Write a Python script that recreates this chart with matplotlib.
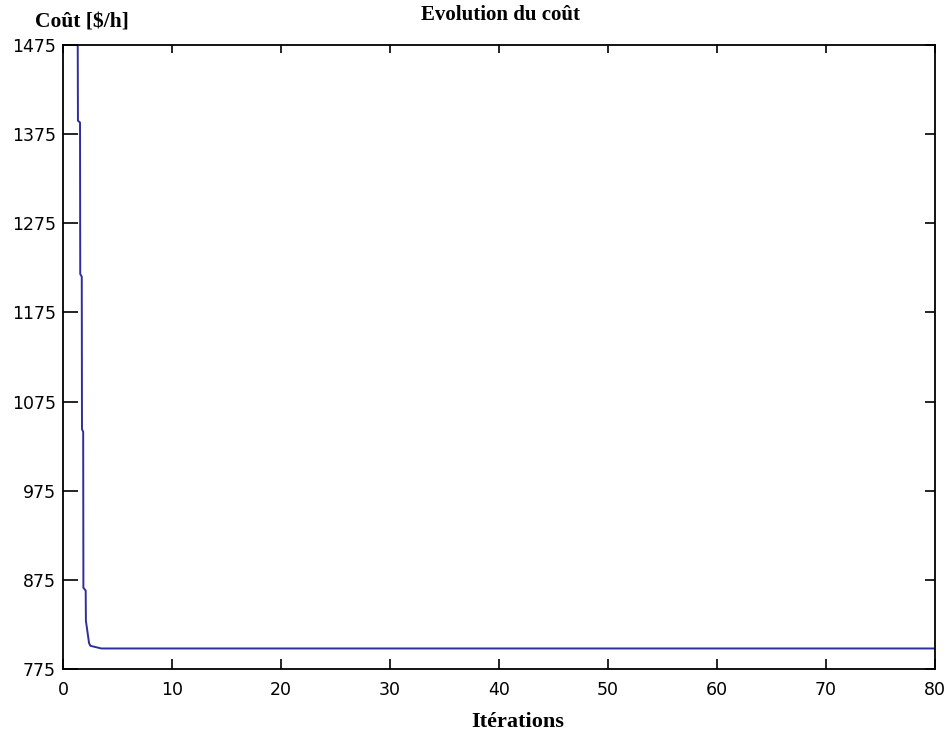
import matplotlib
matplotlib.use("Agg")
import matplotlib.pyplot as plt

# cost evolution (staircase drop then flat)
iterations = [1.35, 1.37, 1.56, 1.58, 1.72, 1.74, 1.85, 1.87, 2.08, 2.10,
              2.39, 2.51, 3.52, 80.0]
cost = [1475, 1390, 1388, 1218, 1215, 1044, 1041, 866, 863, 829,
        804, 801, 798, 798]

x_ticks = [0, 10, 20, 30, 40, 50, 60, 70, 80]
y_ticks = [775, 875, 975, 1075, 1175, 1275, 1375, 1475]

fig = plt.figure(figsize=(9.49, 7.37), dpi=100)
ax = fig.add_axes([0.0664, 0.0923, 0.9189, 0.8467])

ax.plot(iterations, cost, color="#2e2e9e", linewidth=1.4)

ax.set_xlim(0, 80)
ax.set_ylim(775, 1475)
ax.set_xticks(x_ticks)
ax.set_yticks(y_ticks)
ax.tick_params(axis="both", direction="in", top=True, right=True,
               width=1.2, labelsize=12.5)
ax.tick_params(axis="x", length=7, pad=9)
ax.tick_params(axis="y", length=10.5, pad=5)
for s in ax.spines.values():
    s.set_linewidth(1.3)

# shorter ticks on the top and right edges
for t in ax.xaxis.get_major_ticks():
    t.tick2line.set_markersize(6)
for t in ax.yaxis.get_major_ticks():
    t.tick2line.set_markersize(7)

serif_bold = dict(family="Liberation Serif", fontweight="bold")
fig.text(0.527, 0.980, "Evolution du coût", ha="center", va="center",
         fontsize=15, **serif_bold)
fig.text(0.037, 0.970, "Coût [\\$/h]", ha="left", va="center",
         fontsize=15.5, **serif_bold)
fig.text(0.545, 0.020, "Itérations", ha="center", va="center",
         fontsize=16, **serif_bold)

fig.savefig("out.png", dpi=100)
